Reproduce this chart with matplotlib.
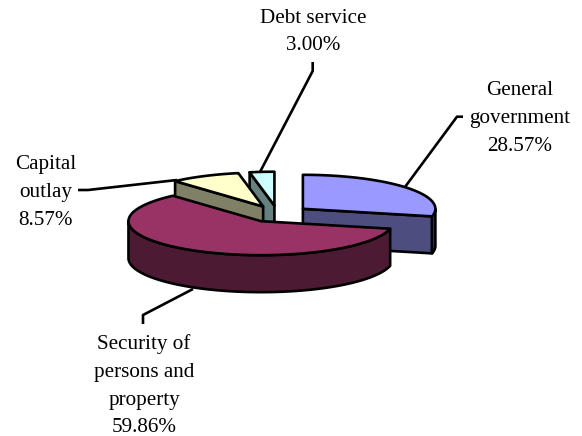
import numpy as np
import matplotlib
matplotlib.use("Agg")
import matplotlib.pyplot as plt

# ---------- data ----------
labels = [
    ["General", "government", "28.57%"],
    ["Security of", "persons and", "property", "59.86%"],
    ["Capital", "outlay", "8.57%"],
    ["Debt service", "3.00%"],
]
shares = [28.57, 59.86, 8.57, 3.00]
top_colors = ["#9999FF", "#993366", "#FFFFCC", "#CCFFFF"]
side_colors = ["#4D4D80", "#4D1A33", "#808066", "#668080"]

# where each label block goes: centre x, first baseline
label_pos = [(520, 95), (144, 349), (45.5, 169), (313, 22.7)]
line_step = 27.8

# leader lines from label to slice
leaders = [
    [(463, 116.7), (457, 116.7), (405, 187)],
    [(143, 324), (143, 315), (193, 289)],
    [(78, 190), (88, 190), (177, 180)],
    [(312.7, 62), (312.7, 71), (260, 172)],
]

# pie geometry, in pixels
CX, CY = 277.5, 214
RX, RY = 132.5, 34
DEPTH = 37
EXPLODE = 0.245
LW = 1.9

# back to front
DRAW_ORDER = [0, 3, 2, 1]


def ellipse_pts(cx, cy, t):
    return np.column_stack([cx + RX * np.cos(t), cy - RY * np.sin(t)])


def draw_poly(ax, pts, color):
    ax.fill(pts[:, 0], pts[:, 1], facecolor=color, edgecolor="black",
            linewidth=LW, joinstyle="round")


def draw_slice(ax, start, end, top, side):
    """start > end, both in radians, going clockwise."""
    mid = (start + end) / 2
    cx = CX + EXPLODE * RX * np.cos(mid)
    cy = CY - EXPLODE * RY * np.sin(mid)
    tip = np.array([[cx, cy]])
    drop = np.array([0, DEPTH])

    # cut faces, only those with the slice sitting above them
    for edge in (start, end):
        if abs(np.cos(edge)) < 1e-6:
            continue
        if np.sin(mid - edge) / np.cos(edge) > 0:
            outer = ellipse_pts(cx, cy, np.array([edge]))
            face = np.vstack([tip, outer, outer + drop, tip + drop])
            draw_poly(ax, face, side)

    # outer wall, front half of the rim only
    t = np.linspace(start, end, 200)
    front = t[np.sin(t) <= 0]
    if len(front) > 1:
        rim = ellipse_pts(cx, cy, front)
        draw_poly(ax, np.vstack([rim, (rim + drop)[::-1]]), side)

    # top surface
    draw_poly(ax, np.vstack([tip, ellipse_pts(cx, cy, t)]), top)


def main():
    plt.rcParams["font.family"] = ["Liberation Serif", "DejaVu Serif"]
    fig = plt.figure(figsize=(5.82, 4.36), dpi=100)
    ax = fig.add_axes([0, 0, 1, 1])
    ax.set_xlim(0, 582)
    ax.set_ylim(436, 0)
    ax.axis("off")

    # slice limits, clockwise from twelve o'clock
    total = sum(shares)
    sweep = np.cumsum([0] + shares) / total * 2 * np.pi
    starts = np.pi / 2 - sweep[:-1]
    ends = np.pi / 2 - sweep[1:]

    for i in DRAW_ORDER:
        draw_slice(ax, starts[i], ends[i], top_colors[i], side_colors[i])

    for pts in leaders:
        xs, ys = zip(*pts)
        ax.plot(xs, ys, color="black", linewidth=LW, solid_capstyle="butt")

    for lines, (x, y) in zip(labels, label_pos):
        for n, line in enumerate(lines):
            ax.text(x, y + n * line_step, line, ha="center", va="baseline",
                    fontsize=15.2, color="black")

    fig.savefig("out.png", dpi=100)


if __name__ == "__main__":
    main()
